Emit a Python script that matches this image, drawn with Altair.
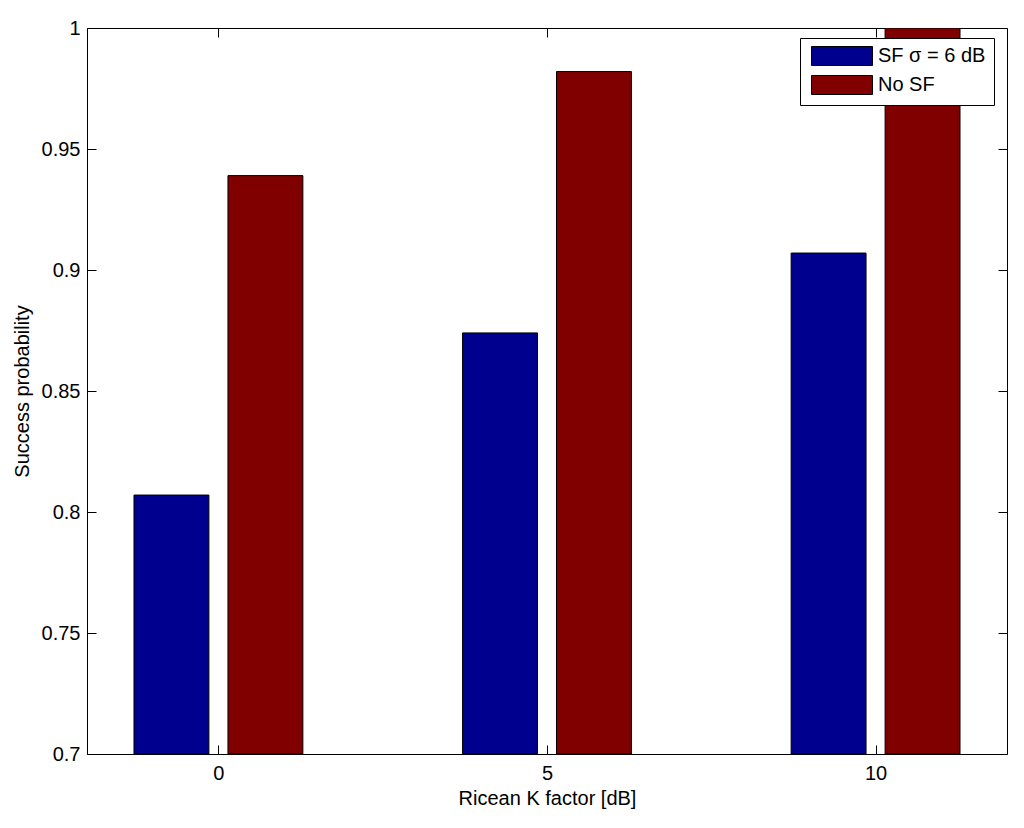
import altair as alt
import pandas as pd

# ---- data ----
k_factors = [0, 5, 10]
series_names = ["SF σ = 6 dB", "No SF"]
sf_success = [0.807, 0.874, 0.907]
nosf_success = [0.939, 0.982, 1.0]
x_ticks = [0, 5, 10]
y_ticks = [0.7, 0.75, 0.8, 0.85, 0.9, 0.95, 1.0]
colors = ["#00008F", "#800000"]

rows = []
for i, k in enumerate(k_factors):
    rows.append({"K": k, "series": series_names[0], "idx": 0, "p": sf_success[i]})
    rows.append({"K": k, "series": series_names[1], "idx": 1, "p": nosf_success[i]})
df = pd.DataFrame(rows)

W, H = 920, 726
FONT = "Liberation Sans"

xscale = alt.Scale(domain=[-2, 12], nice=False, zero=False)
yscale = alt.Scale(domain=[0.7, 1.0], nice=False, zero=False)


def tick_axis(orient, offset, values):
    return alt.Axis(
        orient=orient, offset=offset, values=values, labels=False, title=None,
        domain=False, grid=False, ticks=True, tickSize=9, tickColor="black",
        tickWidth=1,
    )


base = alt.Chart(df)

bars = base.mark_bar(stroke="black", strokeWidth=1, clip=True).transform_calculate(
    x0="datum.K + (datum.idx == 0 ? -0.715 : 0.715) - 0.57",
    x1="datum.K + (datum.idx == 0 ? -0.715 : 0.715) + 0.57",
).encode(
    x=alt.X(
        "x0:Q", scale=xscale,
        axis=alt.Axis(
            orient="bottom", values=x_ticks, format="d",
            title="Ricean K factor [dB]", ticks=False, tickSize=0,
            domain=False, grid=False, labelPadding=9, titlePadding=5,
            labelFont=FONT, labelFontSize=20, labelColor="black",
            titleFont=FONT, titleFontSize=20, titleFontWeight="normal",
            titleColor="black",
        ),
    ),
    x2="x1:Q",
    y=alt.Y(
        "p:Q", scale=yscale,
        axis=alt.Axis(
            orient="left", values=y_ticks, format="~g",
            title="Success probability", ticks=False, tickSize=0,
            domain=False, grid=False, labelPadding=7, titlePadding=9,
            labelFont=FONT, labelFontSize=20, labelColor="black",
            titleFont=FONT, titleFontSize=20, titleFontWeight="normal",
            titleColor="black",
        ),
    ),
    y2=alt.datum(0.7),
    color=alt.Color(
        "series:N",
        scale=alt.Scale(domain=series_names, range=colors),
        legend=alt.Legend(
            title=None, orient="none", legendX=713, legendY=10,
            symbolType="M-3.2105,-1H3.2105V1H-3.2105Z", symbolSize=361,
            symbolOffset=24,
            symbolStrokeColor="black", symbolStrokeWidth=1, symbolOpacity=1,
            labelFont=FONT, labelFontSize=20, labelColor="black",
            labelOffset=26, rowPadding=5, padding=8,
            strokeColor="black", fillColor="white", cornerRadius=0,
        ),
    ),
)

ticks_a = base.mark_point(opacity=0).encode(
    x=alt.X("K:Q", scale=xscale, axis=tick_axis("top", -H, x_ticks)),
    y=alt.Y("p:Q", scale=yscale, axis=tick_axis("right", -W, y_ticks)),
)

ticks_b = base.mark_point(opacity=0).encode(
    x=alt.X("K:Q", scale=xscale, axis=tick_axis("bottom", -H, x_ticks)),
    y=alt.Y("p:Q", scale=yscale, axis=tick_axis("left", -W, y_ticks)),
)

chart = (
    alt.layer(bars, ticks_a, ticks_b)
    .resolve_axis(x="independent", y="independent")
    .properties(
        width=W, height=H,
        autosize=alt.AutoSizeParams(type="none"),
        padding={"left": 79, "top": 20, "right": 9, "bottom": 60},
        background="white",
    )
    .configure_view(stroke="black", strokeWidth=1)
)

chart.save("out.html", embed_options={"renderer": "svg", "actions": False})
